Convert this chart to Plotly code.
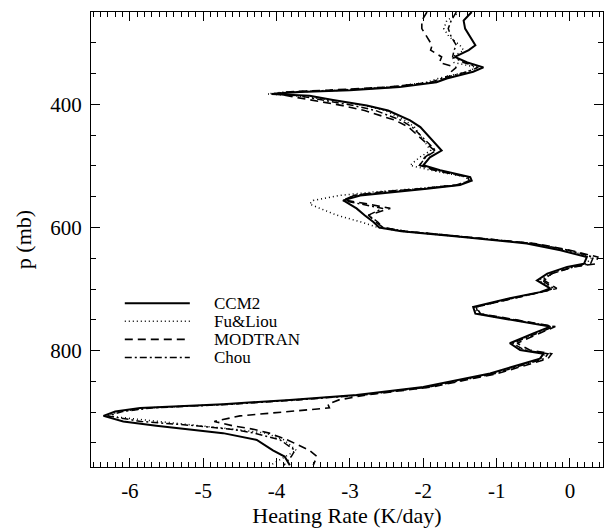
import plotly.graph_objects as go

# Pressure levels (mb)
pressure = [250, 264, 277, 290, 304, 312, 323, 332, 340, 347, 358, 364, 372, 377, 380, 383,
            386, 393, 402, 410, 426, 437, 461, 475, 486, 499, 507, 518, 524, 531, 537, 542,
            548, 556, 562, 569, 580, 591, 600, 606, 615, 626, 637, 648, 659, 664, 675, 686,
            699, 705, 715, 729, 740, 750, 761, 772, 788, 799, 805, 813, 837, 859, 872, 880,
            887, 893, 899, 906, 915, 922, 928, 934, 945, 962, 972, 986]

ccm2 = [-1.34, -1.45, -1.43, -1.36, -1.29, -1.38, -1.57, -1.40, -1.18, -1.32, -1.68, -1.82,
        -2.32, -3.00, -3.68, -4.07, -3.55, -3.23, -2.77, -2.48, -2.18, -2.04, -1.86, -1.75,
        -1.91, -2.00, -1.77, -1.36, -1.34, -1.50, -1.95, -2.41, -2.86, -3.09, -3.00, -2.91,
        -2.80, -2.68, -2.60, -2.30, -1.50, -0.59, -0.13, 0.23, 0.19, -0.04, -0.31, -0.45,
        -0.27, -0.41, -0.82, -1.32, -1.29, -0.82, -0.27, -0.50, -0.82, -0.68, -0.36, -0.41,
        -1.09, -2.00, -2.91, -3.82, -4.73, -5.86, -6.20, -6.36, -6.09, -5.64, -5.18, -4.73,
        -4.27, -4.05, -3.89, -3.82]

fu_liou = [-1.50, -1.68, -1.72, -1.65, -1.50, -1.45, -1.60, -1.58, -1.27, -1.40, -1.80, -1.95,
           -2.45, -3.20, -3.90, -4.12, -3.75, -3.25, -2.80, -2.52, -2.25, -2.12, -1.98, -1.90,
           -2.05, -2.18, -1.90, -1.42, -1.38, -1.55, -2.10, -2.65, -3.15, -3.50, -3.55, -3.40,
           -3.18, -2.85, -2.62, -2.30, -1.45, -0.52, -0.05, 0.30, 0.22, 0.00, -0.28, -0.42,
           -0.25, -0.40, -0.80, -1.30, -1.27, -0.80, -0.25, -0.48, -0.80, -0.65, -0.34, -0.40,
           -1.05, -1.95, -2.85, -3.75, -4.65, -5.75, -6.15, -6.32, -5.64, -5.05, -4.55, -4.15,
           -3.90, -3.73, -3.88, -4.08]

modtran = [-1.95, -2.02, -2.02, -1.95, -1.88, -1.90, -1.75, -1.78, -1.55, -1.62, -1.70, -1.85,
           -2.50, -3.30, -3.90, -4.00, -3.85, -3.50, -3.10, -2.80, -2.38, -2.20, -1.98, -1.85,
           -1.98, -2.05, -1.85, -1.40, -1.37, -1.55, -2.05, -2.55, -2.95, -3.05, -2.75, -2.45,
           -2.75, -2.65, -2.55, -2.25, -1.45, -0.48, 0.00, 0.38, 0.35, 0.05, -0.25, -0.35,
           -0.18, -0.40, -0.80, -1.28, -1.22, -0.75, -0.20, -0.42, -0.72, -0.55, -0.25, -0.30,
           -0.98, -1.88, -2.78, -3.15, -3.30, -3.28, -3.90, -4.50, -4.85, -4.60, -4.30, -4.10,
           -3.85, -3.55, -3.45, -3.50]

chou = [-1.55, -1.62, -1.66, -1.62, -1.55, -1.58, -1.60, -1.45, -1.25, -1.40, -1.75, -1.90,
        -2.40, -3.10, -3.80, -4.05, -3.70, -3.35, -2.95, -2.65, -2.30, -2.15, -1.95, -1.83,
        -1.97, -2.05, -1.82, -1.38, -1.36, -1.52, -2.00, -2.50, -2.95, -3.10, -2.85, -2.55,
        -2.75, -2.62, -2.55, -2.25, -1.45, -0.50, -0.02, 0.32, 0.28, 0.05, -0.25, -0.38,
        -0.22, -0.38, -0.78, -1.28, -1.25, -0.78, -0.22, -0.45, -0.78, -0.62, -0.30, -0.35,
        -1.02, -1.92, -2.82, -3.70, -4.60, -5.70, -6.10, -6.30, -5.85, -5.10, -4.60, -4.30,
        -3.95, -3.75, -3.80, -3.90]

series_names = ["CCM2", "Fu&Liou", "MODTRAN", "Chou"]
series_values = [ccm2, fu_liou, modtran, chou]
series_dash = ["solid", "1px,3px", "8px,5px", "7px,3px,2px,3px"]
series_width = [2.0, 1.5, 1.6, 1.5]

x_ticks = [-6, -5, -4, -3, -2, -1, 0]
y_ticks = [400, 600, 800]

FONT = "Liberation Serif"

fig = go.Figure()
for name, vals, dash, w in zip(series_names, series_values, series_dash, series_width):
    fig.add_trace(go.Scatter(x=vals, y=pressure, mode="lines", name=name,
                             line=dict(color="black", width=w, dash=dash),
                             showlegend=False))

# manual legend (long line samples as in the original)
leg_y0 = 0.360
leg_dy = 0.0398
for i, (name, dash, w) in enumerate(zip(series_names, series_dash, series_width)):
    yy = leg_y0 - i * leg_dy
    fig.add_shape(type="line", xref="x domain", yref="y domain",
                  x0=0.066, x1=0.193, y0=yy, y1=yy,
                  line=dict(color="black", width=w, dash=dash))
    fig.add_annotation(xref="x domain", yref="y domain", x=0.236, y=yy,
                       text=name, showarrow=False, xanchor="left", yanchor="middle",
                       font=dict(family=FONT, size=17, color="black"))

fig.update_layout(
    width=605, height=528,
    margin=dict(l=91, r=2, t=12, b=61),
    paper_bgcolor="white", plot_bgcolor="white",
    font=dict(family=FONT, size=21, color="black"),
)
fig.update_xaxes(
    range=[-6.53, 0.45], tickvals=x_ticks, ticktext=[str(v) for v in x_ticks],
    ticks="inside", ticklen=9, tickwidth=1, tickcolor="black",
    showline=True, linecolor="black", linewidth=1.3, mirror="allticks",
    showgrid=False, zeroline=False, automargin=False,
    minor=dict(dtick=0.1, tick0=0, ticks="inside", ticklen=5, tickcolor="black", showgrid=False),
    title=dict(text="Heating Rate (K/day)", standoff=3, font=dict(family=FONT, size=22)),
    ticklabelstandoff=5,
)
fig.update_yaxes(
    range=[989, 250], tickvals=y_ticks, ticktext=[str(v) for v in y_ticks],
    ticks="inside", ticklen=9, tickwidth=1, tickcolor="black",
    showline=True, linecolor="black", linewidth=1.3, mirror="allticks",
    showgrid=False, zeroline=False, automargin=False,
    minor=dict(dtick=50, tick0=0, ticks="inside", ticklen=5, tickcolor="black", showgrid=False),
    title=dict(text="p (mb)", standoff=12, font=dict(family=FONT, size=22)),
    ticklabelstandoff=4,
)

fig.write_html(
    "out.html",
    config={"displayModeBar": False},
    post_script="document.body.style.margin='0px';document.body.style.padding='0px';"
                "document.body.style.overflow='hidden';",
)
